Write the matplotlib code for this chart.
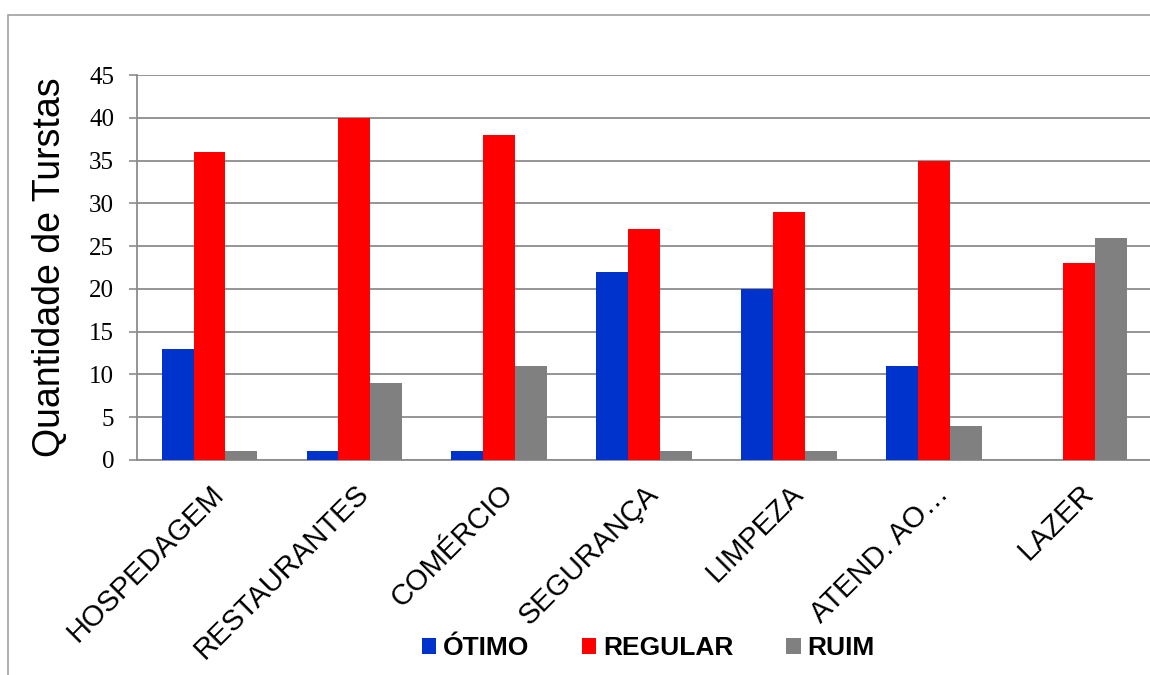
import numpy as np
import matplotlib
matplotlib.use('Agg')
import matplotlib.pyplot as plt
from matplotlib.patches import Rectangle

categorias = ['HOSPEDAGEM', 'RESTAURANTES', 'COMÉRCIO', 'SEGURANÇA', 'LIMPEZA', 'ATEND. AO…', 'LAZER']
otimo = [13, 1, 1, 22, 20, 11, 0]
regular = [36, 40, 38, 27, 29, 35, 23]
ruim = [1, 9, 11, 1, 1, 4, 26]
series = ['ÓTIMO', 'REGULAR', 'RUIM']
cores = ['#0033CC', '#FF0000', '#808080']
yticks = list(range(0, 50, 5))

fig = plt.figure(figsize=(11.5, 6.75), dpi=100)
# moldura externa do gráfico (lados direito e inferior ficam fora da imagem)
fig.patches.append(Rectangle((8 / 1150, -0.5), 1.5, 1.5 - 15 / 675, transform=fig.transFigure,
                             fill=False, edgecolor='#A0A0A0', linewidth=1.2))

ax = fig.add_axes([137 / 1150, 1 - 460 / 675, (1151.5 - 137) / 1150, (460 - 75) / 675])

x = np.arange(len(categorias))
w = 0.22
for k, (vals, cor, nome) in enumerate(zip([otimo, regular, ruim], cores, series)):
    ax.bar(x + (k - 1) * w, vals, width=w, color=cor, edgecolor='none', label=nome, zorder=3)

ax.set_xlim(-0.5, len(categorias) - 0.5)
ax.set_ylim(0, 45)
ax.set_yticks(yticks)
ax.set_yticklabels([str(v) for v in yticks], fontfamily='Liberation Serif', fontsize=18)
ax.yaxis.grid(True, color='#8C8C8C', linewidth=1.3, zorder=0)
ax.set_axisbelow(True)

ax.set_xticks(x)
ax.set_xticklabels(categorias, rotation=45, ha='right', rotation_mode='anchor',
                   fontfamily='Liberation Sans', fontsize=21)
ax.tick_params(axis='x', length=0, pad=14)
ax.tick_params(axis='y', length=5.5, color='#8C8C8C', width=1.2, pad=11)

for s in ['top', 'right']:
    ax.spines[s].set_visible(False)
for s in ['left', 'bottom']:
    ax.spines[s].set_color('#8C8C8C')
    ax.spines[s].set_linewidth(1.3)

ax.set_ylabel('Quantidade de Turstas', fontfamily='Liberation Sans', fontsize=27)
ax.yaxis.set_label_coords(-0.068, 0.5)

leg = fig.legend(loc='center', bbox_to_anchor=(648 / 1150, 1 - 648 / 675), ncol=3,
                 frameon=False, handlelength=0.55, handleheight=0.55, handletextpad=0.25,
                 columnspacing=2.0, prop={'family': 'Liberation Sans', 'weight': 'bold', 'size': 19})

fig.savefig('out.png', dpi=100)
